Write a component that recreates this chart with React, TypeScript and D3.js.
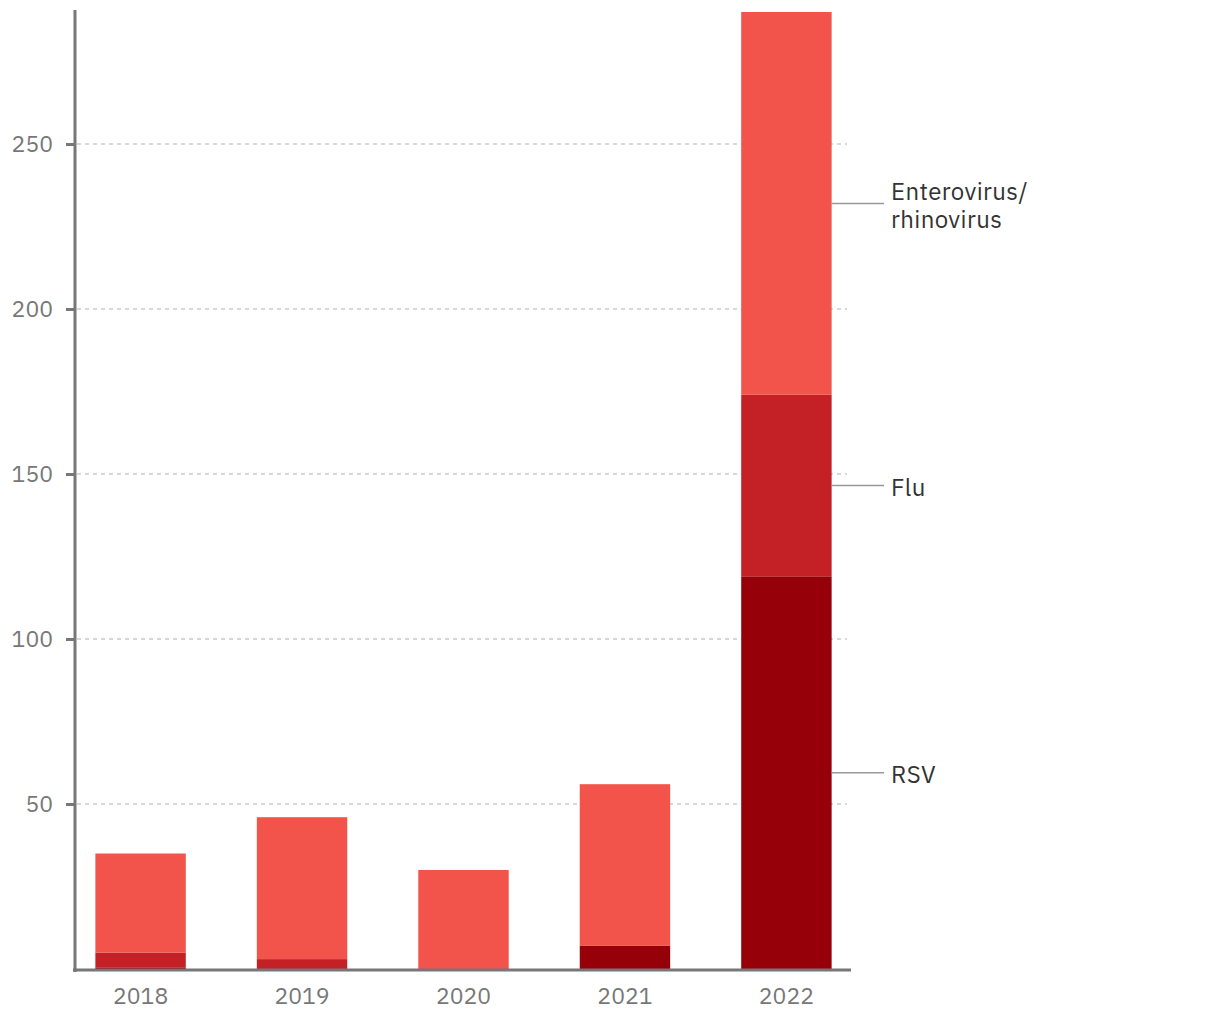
import React, { useEffect, useRef } from "react";
import * as d3 from "d3";

// Values
const years = ["2018", "2019", "2020", "2021", "2022"];
const rsv = [0.5, 0, 0, 7, 119];
const flu = [4.5, 3, 0, 0, 55];
const entero = [30, 43, 30, 49, 116];
const yTicks = [50, 100, 150, 200, 250];

const seriesKeys = ["rsv", "flu", "entero"];
const seriesColors: Record<string, string> = {
    rsv: "#960008",
    flu: "#C42127",
    entero: "#F2544B",
};
const seriesLabels: Record<string, string[]> = {
    rsv: ["RSV"],
    flu: ["Flu"],
    entero: ["Enterovirus/", "rhinovirus"],
};

const App: React.FC = () => {
    const svgRef = useRef<SVGSVGElement>(null);
    const width = 1220;
    const height = 1020;

    useEffect(() => {
        if (!svgRef.current) return;
        const svg = d3.select(svgRef.current);
        svg.selectAll("*").remove();

        const font = "'IBM Plex Sans', 'Noto Sans', sans-serif";
        const plotLeft = 75;
        const plotRight = 851;
        const yBottom = 969;
        const yTop = 12;

        const rows = years.map((y, i) => ({
            year: y,
            rsv: rsv[i],
            flu: flu[i],
            entero: entero[i],
        }));

        const x = d3
            .scaleBand<string>()
            .domain(years)
            .range([plotLeft + 1, plotRight])
            .paddingInner(0.44)
            .paddingOuter(0.12);

        const y = d3.scaleLinear().domain([0, 290]).range([yBottom, yTop]);

        const stack = d3.stack<any>().keys(seriesKeys);
        const stacked = stack(rows);

        // Gridlines
        svg.append("g")
            .selectAll("line")
            .data(yTicks)
            .join("line")
            .attr("x1", plotLeft + 2)
            .attr("x2", 847)
            .attr("y1", d => y(d))
            .attr("y2", d => y(d))
            .attr("stroke", "#acb3b6")
            .attr("stroke-width", 1)
            .attr("stroke-dasharray", "4,4");

        // Bars
        stacked.forEach(layer => {
            svg.append("g")
                .attr("fill", seriesColors[layer.key])
                .selectAll("rect")
                .data(layer)
                .join("rect")
                .attr("x", d => x(d.data.year)!)
                .attr("width", x.bandwidth())
                .attr("y", d => y(d[1]))
                .attr("height", d => Math.max(0, y(d[0]) - y(d[1])));
        });

        // Y axis
        const yAxis = svg.append("g").attr("transform", `translate(${plotLeft},0)`);
        yAxis.call(
            d3.axisLeft(y).tickValues(yTicks).tickSize(9).tickPadding(13) as any
        );
        yAxis.select(".domain").remove();
        yAxis.selectAll(".tick line").attr("stroke", "#777").attr("stroke-width", 3);
        yAxis.selectAll(".tick text")
            .attr("fill", "#777")
            .style("font-size", "23px")
            .style("font-family", font);
        svg.append("line")
            .attr("x1", plotLeft)
            .attr("x2", plotLeft)
            .attr("y1", 10)
            .attr("y2", yBottom + 3)
            .attr("stroke", "#777")
            .attr("stroke-width", 3);

        // X axis
        const xAxis = svg.append("g").attr("transform", `translate(0,${yBottom})`);
        xAxis.call(d3.axisBottom(x).tickSize(0).tickPadding(19) as any);
        xAxis.select(".domain").remove();
        xAxis.selectAll(".tick text")
            .attr("fill", "#777")
            .style("font-size", "23px")
            .style("font-family", font);
        svg.append("line")
            .attr("x1", plotLeft - 2)
            .attr("x2", plotRight)
            .attr("y1", yBottom + 1)
            .attr("y2", yBottom + 1)
            .attr("stroke", "#777")
            .attr("stroke-width", 3);

        // Labels for last bar
        const last = rows.length - 1;
        const barRight = x(years[last])! + x.bandwidth();
        stacked.forEach(layer => {
            const d = layer[last];
            const cy = y((d[0] + d[1]) / 2);
            svg.append("line")
                .attr("x1", barRight)
                .attr("x2", 884)
                .attr("y1", cy)
                .attr("y2", cy)
                .attr("stroke", "#999")
                .attr("stroke-width", 1.5);
            const lines = seriesLabels[layer.key];
            const offset = lines.length === 1 ? 10 : -3;
            lines.forEach((ln, i) => {
                svg.append("text")
                    .attr("x", 891)
                    .attr("y", cy + offset + i * 28)
                    .attr("fill", "#333")
                    .style("font-size", "24px")
                    .style("font-family", font)
                    .style("letter-spacing", "0.4px")
                    .text(ln);
            });
        });
    }, []);

    return (
        <svg
            ref={svgRef}
            width={width}
            height={height}
            style={{ position: "absolute", left: 0, top: 0, background: "#fff" }}
        ></svg>
    );
};

export default App;
